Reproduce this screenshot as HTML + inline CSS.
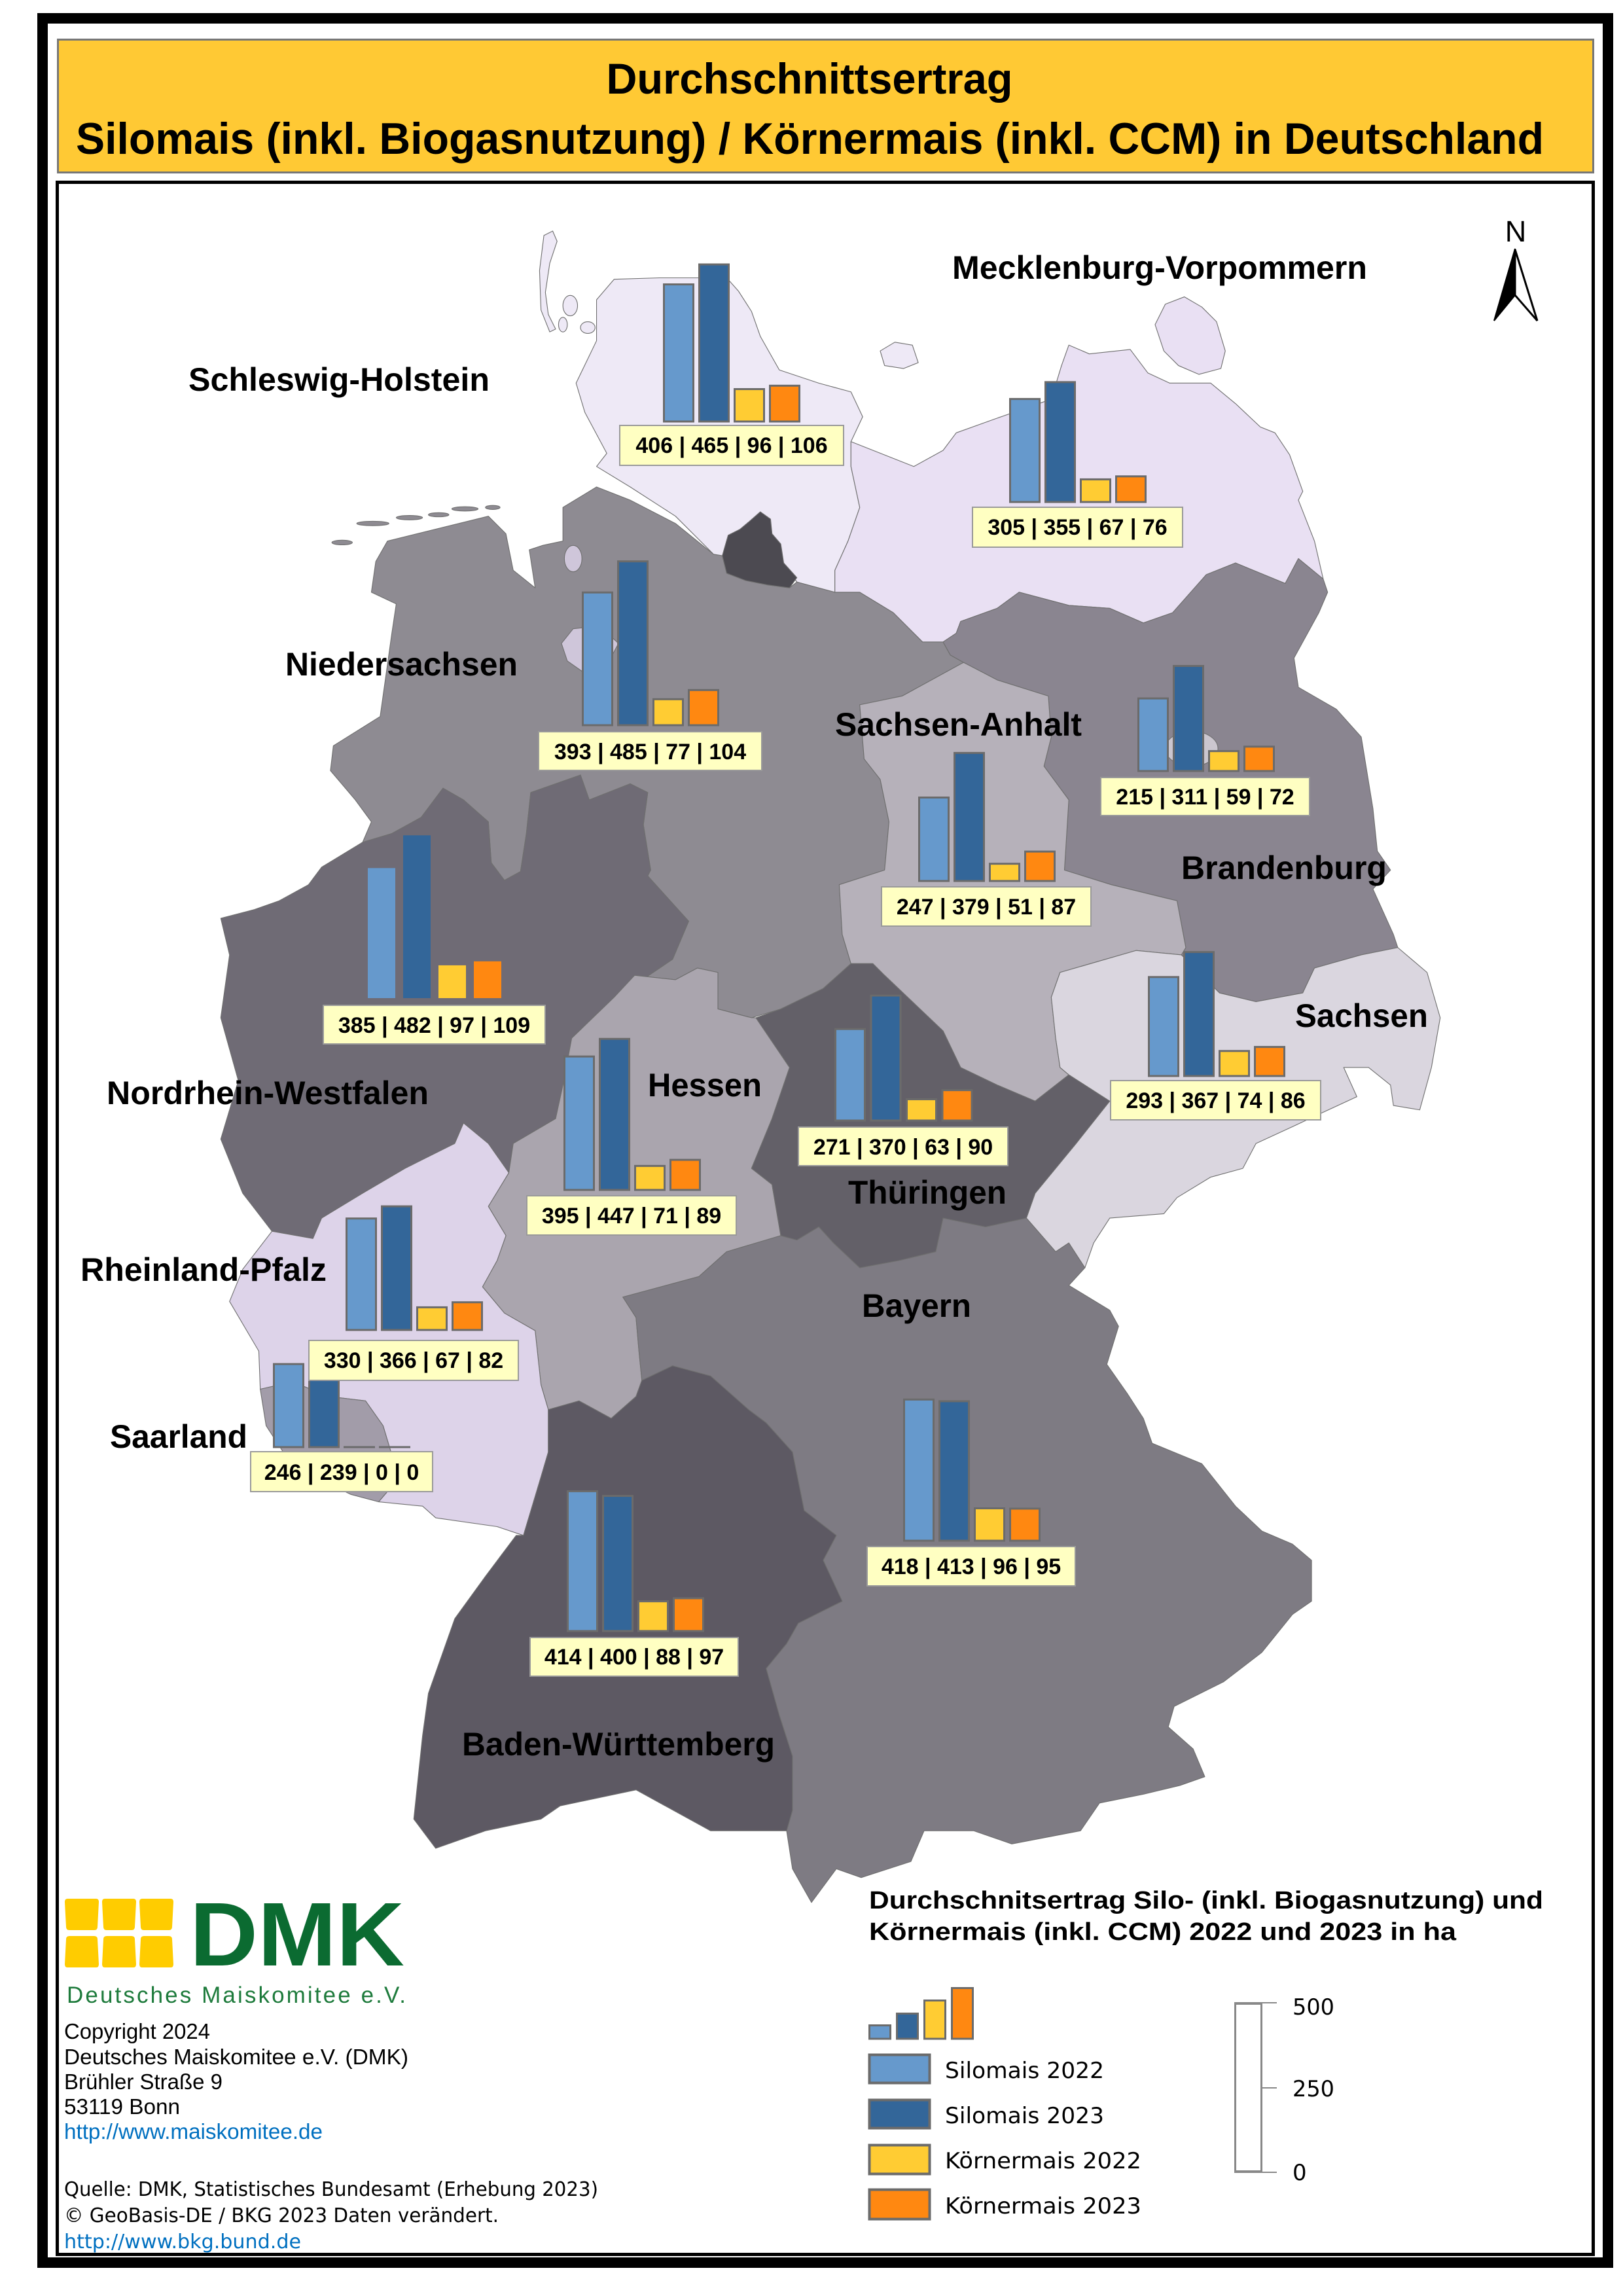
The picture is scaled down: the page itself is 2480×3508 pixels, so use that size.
<!DOCTYPE html>
<html>
<head>
<meta charset="utf-8">
<style>
  html,body{margin:0;padding:0;background:#fff;}
  svg{display:block;}
</style>
</head>
<body>
<svg xmlns="http://www.w3.org/2000/svg" width="2480" height="3508" viewBox="0 0 2480 3508">
  <rect x="0" y="0" width="2480" height="3508" fill="#ffffff"/>

  <!-- outer frame -->
  <rect x="65" y="28" width="2392" height="3429" fill="none" stroke="#000" stroke-width="16"/>
  <!-- title box -->
  <rect x="88.5" y="60.5" width="2346" height="203" fill="#FFC934" stroke="#777" stroke-width="3"/>
  <text x="1237" y="143" font-family="Liberation Sans, Arial, sans-serif" font-weight="bold" font-size="66" text-anchor="middle" textLength="621" lengthAdjust="spacingAndGlyphs">Durchschnittsertrag</text>
  <text x="116" y="235" font-family="Liberation Sans, Arial, sans-serif" font-weight="bold" font-size="68" textLength="2243" lengthAdjust="spacingAndGlyphs">Silomais (inkl. Biogasnutzung) / Körnermais (inkl. CCM) in Deutschland</text>

  <!-- inner map frame -->
  <rect x="87.5" y="278.5" width="2347" height="3166" fill="#fff" stroke="#000" stroke-width="5"/>

  <!-- MAP -->
  <g transform="scale(2.2342)" stroke="#6f6f6f" stroke-width="0.5" stroke-linejoin="round">
    <!-- Niedersachsen -->
    <path fill="#8E8B92" d="M408,333 L431,342 L462,358 L488,379 L494,380 L497,392 L510,397 L525,400 L540,402 L545,398 L571,405 L588,405 L611,419 L631,439 L645,439 L650,448 L659,453 L617,476 L588,482 L591,519 L602,533 L608,562 L605,595 L574,605 L576,639 L582,659 L563,676 L534,690 L514,696 L491,690 L491,665 L477,662 L462,670 L434,667 L420,682 L426,679 L460,656 L471,630 L443,599 L445,595 L440,564 L443,542 L431,536 L403,547 L397,530 L380,536 L363,542 L360,570 L356,596 L345,602 L336,590 L334,562 L317,547 L303,539 L288,559 L268,570 L248,576 L254,562 L243,547 L226,527 L228,510 L260,490 L268,433 L271,413 L254,405 L257,384 L265,370 L334,353 L346,365 L351,390 L366,402 L362,376 L371,373 L385,370 L385,347 Z"/>
    <!-- East Frisian islands -->
    <g fill="#8E8B92">
      <ellipse cx="234" cy="371" rx="7" ry="1.6"/>
      <ellipse cx="255" cy="358" rx="11" ry="1.5"/>
      <ellipse cx="280" cy="354" rx="9" ry="1.5"/>
      <ellipse cx="300" cy="352" rx="7" ry="1.4"/>
      <ellipse cx="318" cy="348" rx="9" ry="1.5"/>
      <ellipse cx="337" cy="347" rx="5" ry="1.4"/>
    </g>
    <!-- Schleswig-Holstein -->
    <path fill="#EEE9F6" d="M420,191 L451,190 L497,190 L505,199 L514,213 L520,230 L533,253 L560,262 L582,268 L590,285 L582,302 L582,319 L588,347 L580,370 L571,390 L571,405 L545,398 L536,385 L528,365 L520,352 L506,362 L494,380 L488,379 L462,353 L431,333 L408,319 L415,310 L400,282 L394,262 L408,233 L408,205 Z"/>
    <g fill="#EEE9F6">
      <path d="M372,161 L378,158 L381,165 L376,180 L373,200 L375,215 L380,225 L376,227 L370,212 L369,185 Z"/>
      <ellipse cx="390" cy="209" rx="5" ry="7"/>
      <ellipse cx="402" cy="224" rx="5" ry="4"/>
      <ellipse cx="385" cy="222" rx="3" ry="5"/>
      <path d="M602,240 L612,234 L624,236 L628,248 L618,252 L605,250 Z"/>
    </g>
    <!-- Mecklenburg-Vorpommern -->
    <path fill="#E9E0F3" d="M582,302 L625,319 L645,308 L654,296 L679,287 L719,273 L726,250 L731,236 L745,242 L773,239 L785,255 L800,262 L828,262 L845,276 L862,292 L872,296 L882,311 L891,336 L888,342 L899,370 L905,396 L888,382 L879,399 L845,385 L825,393 L802,419 L782,426 L759,416 L731,414 L697,405 L682,416 L657,425 L654,433 L645,439 L631,439 L611,419 L588,405 L571,405 L571,390 L580,370 L588,347 L582,319 Z"/>
    <path fill="#E9E0F3" d="M790,222 L797,208 L810,203 L822,210 L832,220 L838,240 L835,252 L820,256 L806,250 L796,240 Z"/>
    <!-- Hamburg -->
    <path fill="#4C4A51" d="M494,380 L498,366 L506,362 L512,357 L520,350 L527,355 L528,365 L534,372 L536,385 L545,395 L540,402 L525,400 L510,397 L497,392 Z"/>
    <!-- Bremen -->
    <ellipse fill="#CFC6DA" cx="392" cy="382" rx="6" ry="9"/>
    <path fill="#CFC6DA" d="M384,440 L392,430 L410,428 L423,440 L415,455 L398,459 L388,452 Z"/>
    <!-- Brandenburg -->
    <path fill="#8A8590" d="M905,396 L888,382 L879,399 L845,385 L825,393 L802,419 L782,426 L759,416 L731,414 L697,405 L682,416 L657,425 L654,433 L645,439 L650,448 L659,453 L682,465 L717,476 L719,504 L714,524 L731,547 L728,595 L760,605 L805,616 L811,648 L808,653 L834,679 L859,685 L891,679 L899,662 L931,653 L956,648 L953,639 L939,608 L951,595 L942,582 L939,553 L931,504 L914,485 L888,470 L885,450 L902,419 L908,405 Z"/>
    <!-- Berlin -->
    <ellipse fill="#CBC6CF" cx="815" cy="512" rx="18" ry="12"/>
    <!-- Sachsen-Anhalt -->
    <path fill="#B6B1BA" d="M659,453 L682,465 L717,476 L719,504 L714,524 L731,547 L728,595 L760,605 L805,616 L811,648 L808,653 L777,650 L725,665 L719,682 L722,710 L725,730 L731,735 L708,753 L682,742 L657,730 L645,705 L605,667 L597,659 L582,659 L576,639 L574,605 L605,595 L608,562 L602,533 L591,519 L588,482 L617,476 Z"/>
    <!-- Nordrhein-Westfalen -->
    <path fill="#6F6B75" d="M220,593 L248,576 L268,570 L288,559 L303,539 L317,547 L334,562 L336,590 L345,602 L356,596 L360,570 L363,542 L380,536 L397,530 L403,547 L431,536 L443,542 L440,564 L445,595 L443,599 L471,630 L460,656 L426,679 L420,682 L391,710 L385,742 L380,765 L351,782 L348,802 L334,782 L317,768 L311,782 L277,799 L248,816 L220,833 L214,847 L186,842 L166,816 L151,779 L163,739 L151,696 L157,653 L151,628 L174,622 L191,616 L211,605 Z"/>
    <!-- Hessen -->
    <path fill="#AAA5AE" d="M420,682 L434,667 L462,670 L477,662 L491,665 L491,690 L514,696 L517,696 L540,730 L528,765 L514,799 L528,810 L534,845 L497,856 L478,873 L426,887 L435,901 L437,924 L439,944 L435,955 L418,970 L396,958 L375,964 L370,947 L366,910 L345,898 L330,880 L340,862 L346,845 L334,825 L348,802 L351,782 L380,765 L385,742 L391,710 Z"/>
    <!-- Thüringen -->
    <path fill="#636068" d="M582,659 L597,659 L605,667 L645,705 L657,730 L682,742 L708,753 L731,735 L759,753 L736,782 L708,816 L702,833 L674,839 L645,833 L640,856 L615,862 L588,867 L570,850 L560,839 L545,848 L534,845 L528,810 L514,799 L528,765 L540,730 L517,696 L534,690 L563,676 Z"/>
    <!-- Sachsen -->
    <path fill="#DAD6DF" d="M725,665 L777,650 L808,653 L834,679 L859,685 L891,679 L899,662 L931,653 L956,648 L976,665 L985,696 L979,730 L971,759 L953,756 L951,742 L936,730 L919,730 L928,750 L902,762 L885,770 L859,782 L850,799 L828,805 L805,819 L796,830 L759,833 L748,850 L742,867 L731,850 L722,856 L702,833 L708,816 L736,782 L759,753 L731,735 L725,730 L722,710 L719,682 Z"/>
    <!-- Rheinland-Pfalz -->
    <path fill="#DDD3E9" d="M317,768 L334,782 L348,802 L334,825 L346,845 L340,862 L330,880 L345,898 L366,910 L370,947 L375,964 L375,993 L370,1010 L358,1050 L340,1044 L298,1038 L289,1030 L259,1027 L265,1020 L268,995 L262,975 L250,958 L225,955 L200,945 L178,950 L177,924 L157,890 L166,868 L186,842 L214,847 L220,833 L248,816 L277,799 L311,782 Z"/>
    <!-- Saarland -->
    <path fill="#A29CA9" d="M178,950 L200,945 L225,955 L250,958 L262,975 L268,995 L265,1020 L259,1027 L240,1022 L215,1010 L195,995 L182,975 Z"/>
    <!-- Bayern -->
    <path fill="#7E7B83" d="M439,944 L437,924 L435,901 L426,887 L478,873 L497,856 L534,845 L545,848 L560,839 L570,850 L588,867 L615,862 L640,856 L645,833 L674,839 L702,833 L722,856 L731,850 L742,867 L731,879 L759,896 L765,907 L757,933 L771,953 L782,970 L788,987 L822,1001 L845,1030 L863,1047 L884,1056 L897,1067 L897,1095 L884,1104 L863,1130 L837,1150 L803,1167 L799,1181 L816,1196 L824,1215 L807,1221 L782,1227 L752,1233 L739,1252 L692,1261 L666,1252 L632,1252 L623,1273 L589,1284 L572,1278 L555,1301 L542,1278 L538,1252 L542,1238 L542,1201 L533,1173 L524,1141 L538,1124 L546,1110 L576,1095 L563,1067 L572,1050 L550,1033 L542,993 L524,973 L512,964 L486,941 L460,934 Z"/>
    <!-- Baden-Württemberg -->
    <path fill="#5D5963" d="M375,964 L396,958 L418,970 L435,955 L439,944 L460,934 L486,941 L512,964 L524,973 L542,993 L550,1033 L572,1050 L563,1067 L576,1095 L546,1110 L538,1124 L524,1141 L533,1173 L542,1201 L542,1238 L538,1252 L486,1252 L435,1224 L383,1235 L370,1244 L332,1252 L298,1264 L283,1244 L289,1187 L293,1158 L311,1107 L332,1078 L353,1050 L358,1050 L370,1010 L375,993 Z"/>
  </g>

  <!-- State labels -->
  <g font-family="Liberation Sans, Arial, sans-serif" font-weight="bold" font-size="50" fill="#000">
    <text x="288" y="597" textLength="460" lengthAdjust="spacingAndGlyphs">Schleswig-Holstein</text>
    <text x="1455" y="426" textLength="634" lengthAdjust="spacingAndGlyphs">Mecklenburg-Vorpommern</text>
    <text x="436" y="1032" textLength="355" lengthAdjust="spacingAndGlyphs">Niedersachsen</text>
    <text x="1276" y="1124" textLength="377" lengthAdjust="spacingAndGlyphs">Sachsen-Anhalt</text>
    <text x="1805" y="1343" textLength="314" lengthAdjust="spacingAndGlyphs">Brandenburg</text>
    <text x="163" y="1687" textLength="492" lengthAdjust="spacingAndGlyphs">Nordrhein-Westfalen</text>
    <text x="990" y="1675" textLength="174" lengthAdjust="spacingAndGlyphs">Hessen</text>
    <text x="1979" y="1569" textLength="203" lengthAdjust="spacingAndGlyphs">Sachsen</text>
    <text x="1296" y="1839" textLength="242" lengthAdjust="spacingAndGlyphs">Thüringen</text>
    <text x="123" y="1957" textLength="376" lengthAdjust="spacingAndGlyphs">Rheinland-Pfalz</text>
    <text x="1317" y="2012" textLength="167" lengthAdjust="spacingAndGlyphs">Bayern</text>
    <text x="168" y="2212" textLength="210" lengthAdjust="spacingAndGlyphs">Saarland</text>
    <text x="706" y="2682" textLength="478" lengthAdjust="spacingAndGlyphs">Baden-Württemberg</text>
  </g>

  <!-- Bars -->
  <g stroke="#6b6b6b" stroke-width="3">
    <!-- SH -->
    <rect x="1014.5" y="434.5" width="45" height="209.5" fill="#6699CC"/>
    <rect x="1068.5" y="404" width="45" height="240" fill="#336699"/>
    <rect x="1122.5" y="594.5" width="45" height="49.5" fill="#FFCC33"/>
    <rect x="1176.5" y="589.3" width="45" height="54.7" fill="#FF8811"/>
    <!-- MV -->
    <rect x="1543.5" y="609.6" width="45" height="157.4" fill="#6699CC"/>
    <rect x="1597.5" y="583.8" width="45" height="183.2" fill="#336699"/>
    <rect x="1651.5" y="732.4" width="45" height="34.6" fill="#FFCC33"/>
    <rect x="1705.5" y="727.8" width="45" height="39.2" fill="#FF8811"/>
    <!-- NS -->
    <rect x="890.5" y="905.2" width="45" height="202.8" fill="#6699CC"/>
    <rect x="944.5" y="857.7" width="45" height="250.3" fill="#336699"/>
    <rect x="998.5" y="1068.3" width="45" height="39.7" fill="#FFCC33"/>
    <rect x="1052.5" y="1054.3" width="45" height="53.7" fill="#FF8811"/>
    <!-- BB -->
    <rect x="1739.5" y="1067.1" width="45" height="110.9" fill="#6699CC"/>
    <rect x="1793.5" y="1017.5" width="45" height="160.5" fill="#336699"/>
    <rect x="1847.5" y="1147.6" width="45" height="30.4" fill="#FFCC33"/>
    <rect x="1901.5" y="1140.8" width="45" height="37.2" fill="#FF8811"/>
    <!-- SA -->
    <rect x="1404.5" y="1218.5" width="45" height="127.5" fill="#6699CC"/>
    <rect x="1458.5" y="1150.4" width="45" height="195.6" fill="#336699"/>
    <rect x="1512.5" y="1319.7" width="45" height="26.3" fill="#FFCC33"/>
    <rect x="1566.5" y="1301.1" width="45" height="44.9" fill="#FF8811"/>
    <!-- HE -->
    <rect x="862.5" y="1614.2" width="45" height="203.8" fill="#6699CC"/>
    <rect x="916.5" y="1587.3" width="45" height="230.7" fill="#336699"/>
    <rect x="970.5" y="1781.4" width="45" height="36.6" fill="#FFCC33"/>
    <rect x="1024.5" y="1772.1" width="45" height="45.9" fill="#FF8811"/>
    <!-- TH -->
    <rect x="1276.5" y="1572.2" width="45" height="139.8" fill="#6699CC"/>
    <rect x="1331" y="1521.1" width="45" height="190.9" fill="#336699"/>
    <rect x="1385.5" y="1679.5" width="45" height="32.5" fill="#FFCC33"/>
    <rect x="1440" y="1665.6" width="45" height="46.4" fill="#FF8811"/>
    <!-- SN -->
    <rect x="1755.5" y="1492.8" width="45" height="151.2" fill="#6699CC"/>
    <rect x="1809.5" y="1454.6" width="45" height="189.4" fill="#336699"/>
    <rect x="1863.5" y="1605.8" width="45" height="38.2" fill="#FFCC33"/>
    <rect x="1917.5" y="1599.6" width="45" height="44.4" fill="#FF8811"/>
    <!-- RP -->
    <rect x="529.5" y="1861.7" width="45" height="170.3" fill="#6699CC"/>
    <rect x="583.5" y="1843.1" width="45" height="188.9" fill="#336699"/>
    <rect x="637.5" y="1997.4" width="45" height="34.6" fill="#FFCC33"/>
    <rect x="691.5" y="1989.7" width="45" height="42.3" fill="#FF8811"/>
    <!-- SL -->
    <rect x="418.5" y="2084.1" width="45" height="126.9" fill="#6699CC"/>
    <rect x="472.5" y="2087.7" width="45" height="123.3" fill="#336699"/>
    <line x1="525" y1="2211" x2="573" y2="2211"/>
    <line x1="579" y1="2211" x2="627" y2="2211"/>
    <!-- BY -->
    <rect x="1381.5" y="2138.3" width="45" height="215.7" fill="#6699CC"/>
    <rect x="1435.5" y="2140.9" width="45" height="213.1" fill="#336699"/>
    <rect x="1489.5" y="2304.5" width="45" height="49.5" fill="#FFCC33"/>
    <rect x="1543.5" y="2305" width="45" height="49" fill="#FF8811"/>
    <!-- BW -->
    <rect x="867.5" y="2278.4" width="45" height="213.6" fill="#6699CC"/>
    <rect x="921.5" y="2285.6" width="45" height="206.4" fill="#336699"/>
    <rect x="975.5" y="2446.6" width="45" height="45.4" fill="#FFCC33"/>
    <rect x="1029.5" y="2441.9" width="45" height="50.1" fill="#FF8811"/>
  </g>
  <!-- NRW bars (no outline) -->
  <g>
    <rect x="562" y="1326.3" width="42" height="198.7" fill="#6699CC"/>
    <rect x="616" y="1276.3" width="42" height="248.7" fill="#336699"/>
    <rect x="670" y="1474.9" width="42" height="50.1" fill="#FFCC33"/>
    <rect x="724" y="1468.8" width="42" height="56.2" fill="#FF8811"/>
  </g>

  <!-- Value boxes -->
  <g fill="#FFFFC2" stroke="#9a9a9a" stroke-width="2">
    <rect x="947" y="650" width="342" height="61"/>
    <rect x="1486" y="775" width="321" height="61"/>
    <rect x="823" y="1118" width="341" height="59"/>
    <rect x="1682" y="1188" width="319" height="58"/>
    <rect x="1347" y="1355" width="320" height="60"/>
    <rect x="494" y="1536" width="339" height="59"/>
    <rect x="805" y="1827" width="320" height="60"/>
    <rect x="1220" y="1722" width="320" height="59"/>
    <rect x="1697" y="1651" width="321" height="60"/>
    <rect x="472" y="2048" width="320" height="61"/>
    <rect x="383" y="2218" width="278" height="61"/>
    <rect x="1325" y="2363" width="318" height="60"/>
    <rect x="810" y="2502" width="318" height="59"/>
  </g>
  <g font-family="Liberation Sans, Arial, sans-serif" font-weight="bold" font-size="34" fill="#000" text-anchor="middle">
    <text x="1118" y="692">406 | 465 | 96 | 106</text>
    <text x="1646.5" y="817">305 | 355 | 67 | 76</text>
    <text x="993.5" y="1160">393 | 485 | 77 | 104</text>
    <text x="1841.5" y="1229">215 | 311 | 59 | 72</text>
    <text x="1507" y="1397">247 | 379 | 51 | 87</text>
    <text x="663.5" y="1578">385 | 482 | 97 | 109</text>
    <text x="965" y="1869">395 | 447 | 71 | 89</text>
    <text x="1380" y="1764">271 | 370 | 63 | 90</text>
    <text x="1857.5" y="1693">293 | 367 | 74 | 86</text>
    <text x="632" y="2090">330 | 366 | 67 | 82</text>
    <text x="522" y="2261">246 | 239 | 0 | 0</text>
    <text x="1484" y="2405">418 | 413 | 96 | 95</text>
    <text x="969" y="2543">414 | 400 | 88 | 97</text>
  </g>

  <!-- North arrow -->
  <text x="2316" y="369" font-family="Liberation Sans, Arial, sans-serif" font-size="45" text-anchor="middle" fill="#000">N</text>
  <polygon points="2315,381 2349,490 2315,451" fill="#fff" stroke="#000" stroke-width="3" stroke-linejoin="miter"/>
  <polygon points="2315,380 2283,490 2315,451" fill="#000" stroke="#000" stroke-width="2"/>

  <!-- DMK logo -->
  <g fill="#FFCC00">
    <path d="M103,2901 H147 Q151,2901 151,2906 L149,2944 Q149,2949 144,2949 H106 Q101,2949 101,2944 L99,2906 Q99,2901 103,2901 Z"/>
    <path d="M160,2901 H204 Q208,2901 208,2906 L206,2944 Q206,2949 201,2949 H163 Q158,2949 158,2944 L156,2906 Q156,2901 160,2901 Z"/>
    <path d="M217,2901 H261 Q265,2901 265,2906 L263,2944 Q263,2949 258,2949 H220 Q215,2949 215,2944 L213,2906 Q213,2901 217,2901 Z"/>
    <path d="M106,2958 H144 Q149,2958 149,2963 L151,3001 Q151,3006 147,3006 H103 Q99,3006 99,3001 L101,2963 Q101,2958 106,2958 Z"/>
    <path d="M163,2958 H201 Q206,2958 206,2963 L208,3001 Q208,3006 204,3006 H160 Q156,3006 156,3001 L158,2963 Q158,2958 163,2958 Z"/>
    <path d="M220,2958 H258 Q263,2958 263,2963 L265,3001 Q265,3006 261,3006 H217 Q213,3006 213,3001 L215,2963 Q215,2958 220,2958 Z"/>
  </g>
  <text x="290" y="3003" font-family="Liberation Sans, Arial, sans-serif" font-weight="bold" font-size="138" fill="#0B6B31" textLength="328" lengthAdjust="spacingAndGlyphs">DMK</text>
  <text x="102" y="3060" font-family="Liberation Sans, Arial, sans-serif" font-size="35" fill="#1E7B3C" textLength="518" lengthAdjust="spacing">Deutsches Maiskomitee e.V.</text>

  <!-- Copyright block -->
  <g font-family="Liberation Sans, Arial, sans-serif" font-size="33" fill="#000">
    <text x="98" y="3115" textLength="223" lengthAdjust="spacingAndGlyphs">Copyright 2024</text>
    <text x="98" y="3154" textLength="526" lengthAdjust="spacingAndGlyphs">Deutsches Maiskomitee e.V. (DMK)</text>
    <text x="98" y="3192" textLength="242" lengthAdjust="spacingAndGlyphs">Brühler Straße 9</text>
    <text x="98" y="3230" textLength="177" lengthAdjust="spacingAndGlyphs">53119 Bonn</text>
    <text x="98" y="3268" fill="#0070C0" textLength="395" lengthAdjust="spacingAndGlyphs">http://www.maiskomitee.de</text>
  </g>
  <g font-family="DejaVu Sans, Verdana, sans-serif" font-size="30" fill="#000">
    <text x="98" y="3355" textLength="816" lengthAdjust="spacingAndGlyphs">Quelle: DMK, Statistisches Bundesamt (Erhebung 2023)</text>
    <text x="98" y="3395" textLength="664" lengthAdjust="spacingAndGlyphs">© GeoBasis-DE / BKG 2023 Daten verändert.</text>
    <text x="98" y="3435" fill="#0070C0" textLength="362" lengthAdjust="spacingAndGlyphs">http://www.bkg.bund.de</text>
  </g>

  <!-- Legend -->
  <g font-family="Liberation Sans, Arial, sans-serif" font-weight="bold" font-size="38" fill="#000">
    <text x="1328" y="2916" textLength="1030" lengthAdjust="spacingAndGlyphs">Durchschnitsertrag Silo- (inkl. Biogasnutzung) und</text>
    <text x="1328" y="2964" textLength="897" lengthAdjust="spacingAndGlyphs">Körnermais (inkl. CCM) 2022 und 2023 in ha</text>
  </g>
  <g stroke="#6b6b6b" stroke-width="3">
    <rect x="1328.5" y="3094.5" width="32" height="20.5" fill="#6699CC"/>
    <rect x="1370.5" y="3076.5" width="32" height="38.5" fill="#336699"/>
    <rect x="1412.5" y="3056.5" width="32" height="58.5" fill="#FFCC33"/>
    <rect x="1454.5" y="3037.5" width="32" height="77.5" fill="#FF8811"/>

    <rect x="1328.5" y="3139.5" width="92" height="43" fill="#6699CC" stroke-width="4"/>
    <rect x="1328.5" y="3208.5" width="92" height="43" fill="#336699" stroke-width="4"/>
    <rect x="1328.5" y="3277.5" width="92" height="44" fill="#FFCC33" stroke-width="4"/>
    <rect x="1328.5" y="3345.5" width="92" height="45" fill="#FF8811" stroke-width="4"/>
  </g>
  <g font-family="DejaVu Sans, Verdana, sans-serif" font-size="34" fill="#000">
    <text x="1444" y="3175" textLength="243" lengthAdjust="spacingAndGlyphs">Silomais 2022</text>
    <text x="1444" y="3244" textLength="243" lengthAdjust="spacingAndGlyphs">Silomais 2023</text>
    <text x="1444" y="3313" textLength="300" lengthAdjust="spacingAndGlyphs">Körnermais 2022</text>
    <text x="1444" y="3382" textLength="300" lengthAdjust="spacingAndGlyphs">Körnermais 2023</text>
  </g>
  <!-- scale bar -->
  <rect x="1887.5" y="3061.5" width="40" height="256" fill="#fff" stroke="#888" stroke-width="3"/>
  <line x1="1886" y1="3061" x2="1929" y2="3061" stroke="#888" stroke-width="4"/>
  <line x1="1886" y1="3318" x2="1929" y2="3318" stroke="#888" stroke-width="4"/>
  <g stroke="#888" stroke-width="2">
    <line x1="1929" y1="3060" x2="1951" y2="3060"/>
    <line x1="1929" y1="3190" x2="1951" y2="3190"/>
    <line x1="1929" y1="3319" x2="1951" y2="3319"/>
  </g>
  <g font-family="DejaVu Sans, Verdana, sans-serif" font-size="34" fill="#000">
    <text x="1975" y="3078" textLength="64" lengthAdjust="spacingAndGlyphs">500</text>
    <text x="1975" y="3203" textLength="64" lengthAdjust="spacingAndGlyphs">250</text>
    <text x="1975" y="3331">0</text>
  </g>
</svg>
</body>
</html>
